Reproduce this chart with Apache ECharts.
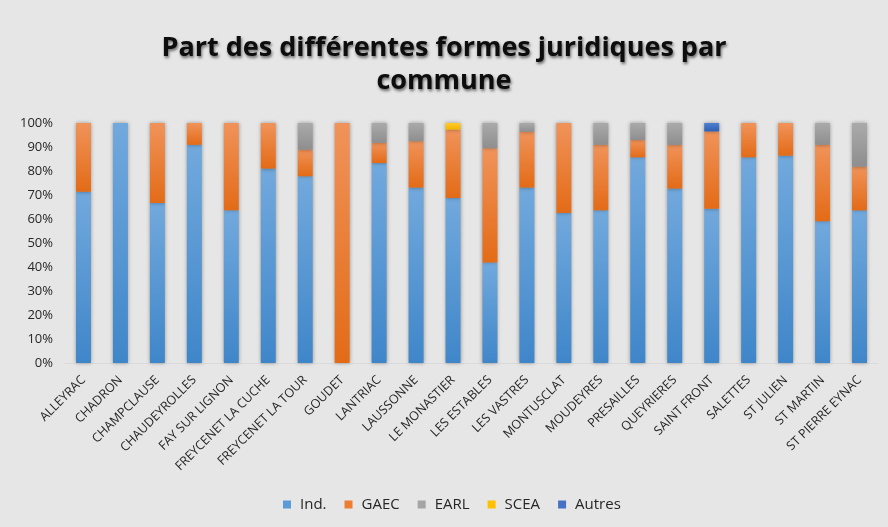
<!DOCTYPE html>
<html>
<head>
<meta charset="utf-8">
<script src="https://cdn.jsdelivr.net/npm/echarts@6/dist/echarts.min.js"></script>
<style>
  html, body { margin: 0; padding: 0; background: #e6e6e6; }
  #chart { width: 888px; height: 527px; }
</style>
</head>
<body>
<div id="chart"></div>
<script>
// Communes and the share (%) of each legal form of farm
var communes = ['ALLEYRAC', 'CHADRON', 'CHAMPCLAUSE', 'CHAUDEYROLLES', 'FAY SUR LIGNON',
  'FREYCENET LA CUCHE', 'FREYCENET LA TOUR', 'GOUDET', 'LANTRIAC', 'LAUSSONNE',
  'LE MONASTIER', 'LES ESTABLES', 'LES VASTRES', 'MONTUSCLAT', 'MOUDEYRES',
  'PRESAILLES', 'QUEYRIERES', 'SAINT FRONT', 'SALETTES', 'ST JULIEN', 'ST MARTIN',
  'ST PIERRE EYNAC'];

var ind    = [71.4, 100, 66.7, 90.9, 63.6, 81.0, 77.8, 0, 83.3, 73.1, 68.8, 41.9, 73.1, 62.5, 63.6, 85.7, 72.7, 64.3, 85.7, 86.4, 59.1, 63.6];
var gaec   = [28.6, 0, 33.3, 9.1, 36.4, 19.0, 11.1, 100, 8.4, 19.3, 28.4, 47.6, 23.2, 37.5, 27.3, 7.2, 18.2, 32.2, 14.3, 13.6, 31.8, 18.2];
var earl   = [0, 0, 0, 0, 0, 0, 11.1, 0, 8.3, 7.6, 0, 10.5, 3.7, 0, 9.1, 7.1, 9.1, 0, 0, 0, 9.1, 18.2];
var scea   = [0, 0, 0, 0, 0, 0, 0, 0, 0, 0, 2.8, 0, 0, 0, 0, 0, 0, 0, 0, 0, 0, 0];
var autres = [0, 0, 0, 0, 0, 0, 0, 0, 0, 0, 0, 0, 0, 0, 0, 0, 0, 3.5, 0, 0, 0, 0];

var percentTicks = ['0%', '10%', '20%', '30%', '40%', '50%', '60%', '70%', '80%', '90%', '100%'];

function grad(top, bottom) {
  return new echarts.graphic.LinearGradient(0, 0, 0, 1, [
    { offset: 0, color: top },
    { offset: 1, color: bottom }
  ]);
}

function layer(name, data, top, bottom) {
  return {
    name: name,
    type: 'bar',
    stack: 'total',
    barWidth: 15,
    data: data,
    itemStyle: {
      color: grad(top, bottom),
      shadowColor: 'rgba(0,0,0,0.35)',
      shadowBlur: 4,
      shadowOffsetX: 0,
      shadowOffsetY: 0
    },
    emphasis: { disabled: true }
  };
}

var chart = echarts.init(document.getElementById('chart'), null, { renderer: 'canvas' });
chart.setOption({
  backgroundColor: '#e6e6e6',
  animation: false,
  color: ['#5b9bd5', '#ed7d31', '#a5a5a5', '#ffc000', '#4472c4'],
  title: {
    text: 'Part des différentes formes juridiques par\ncommune',
    left: 'center',
    top: 27,
    textStyle: {
      fontFamily: 'Open Sans',
      fontWeight: 'bold',
      fontSize: 27,
      lineHeight: 33,
      color: '#0d0d0d',
      textShadowColor: 'rgba(0,0,0,0.55)',
      textShadowBlur: 3,
      textShadowOffsetX: 1,
      textShadowOffsetY: 2
    }
  },
  legend: {
    bottom: 10,
    left: 278,
    itemWidth: 8,
    itemHeight: 8,
    itemGap: 18,
    icon: 'rect',
    data: [
      { name: 'Ind.', itemStyle: { color: '#5b9bd5' } },
      { name: 'GAEC', itemStyle: { color: '#ed7d31' } },
      { name: 'EARL', itemStyle: { color: '#a5a5a5' } },
      { name: 'SCEA', itemStyle: { color: '#ffc000' } },
      { name: 'Autres', itemStyle: { color: '#4472c4' } }
    ],
    textStyle: { fontFamily: 'Open Sans', fontSize: 15, color: '#262626', padding: [0, 0, 0, 4] }
  },
  grid: { left: 65, right: 10, top: 123, bottom: 164, containLabel: false },
  xAxis: {
    type: 'category',
    data: communes,
    axisTick: { show: false },
    axisLine: { lineStyle: { color: '#dadada', width: 1 } },
    axisLabel: {
      interval: 0,
      rotate: 45,
      margin: 15,
      fontFamily: 'Open Sans',
      fontSize: 12.5,
      color: '#262626'
    }
  },
  yAxis: {
    type: 'value',
    min: 0,
    max: 100,
    interval: 10,
    splitLine: { show: false },
    axisLine: { show: false },
    axisTick: { show: false },
    axisLabel: {
      margin: 12,
      fontFamily: 'Open Sans',
      fontSize: 13,
      color: '#262626',
      formatter: function (v) { return percentTicks[Math.round(v / 10)]; }
    }
  },
  series: [
    layer('Ind.', ind, '#72a9dd', '#3f86c9'),
    layer('GAEC', gaec, '#f0935a', '#e36b17'),
    layer('EARL', earl, '#aaaaaa', '#8e8e8e'),
    layer('SCEA', scea, '#ffca2a', '#f2b400'),
    layer('Autres', autres, '#4e7fd0', '#2f5fb3')
  ]
});
</script>
</body>
</html>
